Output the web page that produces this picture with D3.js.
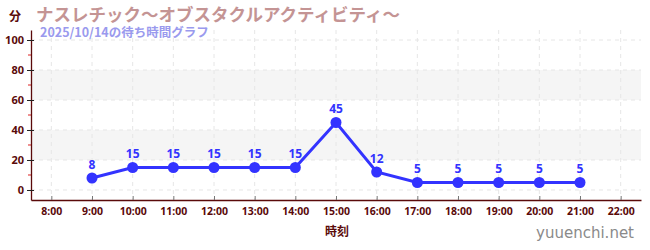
<!DOCTYPE html>
<html>
<head>
<meta charset="utf-8">
<script src="https://cdn.jsdelivr.net/npm/d3@7/dist/d3.min.js"></script>
<style>
  body { margin: 0; background: #fff; }
  svg { display: block; font-family: "Noto Sans CJK JP", "Noto Sans", sans-serif; }
</style>
</head>
<body>
<div id="chart"></div>
<script>
// wait times (minutes) by hour
var hours = [9, 10, 11, 12, 13, 14, 15, 16, 17, 18, 19, 20, 21]
var waits = [8, 15, 15, 15, 15, 15, 45, 12, 5, 5, 5, 5, 5]
var xTicks = [8, 9, 10, 11, 12, 13, 14, 15, 16, 17, 18, 19, 20, 21, 22]
var yTicks = [0, 20, 40, 60, 80, 100]
var bands = [[20, 40], [60, 80]]

var titleText = "ナスレチック～オブスタクルアクティビティ～"
var subText = "2025/10/14の待ち時間グラフ"

var width = 650, height = 250
var m = {top: 30, right: 9, bottom: 50, left: 31}

var svg = d3.select("#chart").append("svg")
  .attr("width", width)
  .attr("height", height)

var x = d3.scaleLinear().domain([7.5, 22.5]).range([m.left, width - m.right])
var y = d3.scaleLinear().domain([-6.67, 106.67]).range([height - m.bottom, m.top])

var axisColour = "#5a0a0a"

// grey bands
svg.append("g").selectAll("rect")
  .data(bands)
  .enter().append("rect")
  .attr("x", m.left)
  .attr("width", width - m.right - m.left)
  .attr("y", d => y(d[1]))
  .attr("height", d => y(d[0]) - y(d[1]))
  .attr("fill", "#f5f5f5")

// dashed grid
var grid = svg.append("g").attr("stroke", "#e6e6e6").attr("stroke-dasharray", "4,4")
grid.selectAll(".gx").data(xTicks).enter().append("line")
  .attr("x1", d => x(d)).attr("x2", d => x(d))
  .attr("y1", m.top).attr("y2", height - m.bottom)
grid.selectAll(".gy").data(yTicks).enter().append("line")
  .attr("x1", m.left).attr("x2", width - m.right)
  .attr("y1", d => y(d)).attr("y2", d => y(d))

// minor y ticks (red)
svg.append("g").selectAll("line")
  .data([10, 30, 50, 70, 90])
  .enter().append("line")
  .attr("x1", m.left - 3).attr("x2", m.left)
  .attr("y1", d => y(d)).attr("y2", d => y(d))
  .attr("stroke", "#d22")

// y axis
var yAxis = svg.append("g")
  .attr("transform", "translate(" + m.left + ",0)")
  .call(d3.axisLeft(y).tickValues(yTicks).tickSize(4).tickPadding(3).tickSizeOuter(0))
yAxis.select(".domain").attr("stroke", axisColour).attr("stroke-width", 1.3)
yAxis.selectAll(".tick line").attr("stroke", "#222").attr("x2", 3).attr("x1", -4)
yAxis.selectAll(".tick text")
  .attr("fill", axisColour).attr("font-size", 11).attr("font-weight", "bold")
  .attr("font-family", "Noto Sans, sans-serif")

// x axis
var xAxis = svg.append("g")
  .attr("transform", "translate(0," + (height - m.bottom) + ")")
  .call(d3.axisBottom(x).tickValues(xTicks).tickFormat(d => d + ":00").tickSize(4).tickPadding(4).tickSizeOuter(0))
xAxis.select(".domain").attr("stroke", axisColour).attr("stroke-width", 1.3)
xAxis.selectAll(".tick line").attr("stroke", "#777").attr("y1", -4).attr("y2", 0)
xAxis.selectAll(".tick text")
  .attr("fill", axisColour).attr("font-size", 10.5).attr("font-weight", "bold")
  .attr("font-family", "Noto Sans, sans-serif")

// line + points
var pts = hours.map((h, i) => ({h: h, v: waits[i]}))
var blue = "#3333ff"

svg.append("path")
  .datum(pts)
  .attr("fill", "none")
  .attr("stroke", blue)
  .attr("stroke-width", 3)
  .attr("d", d3.line().x(d => x(d.h)).y(d => y(d.v)))

svg.append("g").selectAll("circle")
  .data(pts)
  .enter().append("circle")
  .attr("cx", d => x(d.h))
  .attr("cy", d => y(d.v))
  .attr("r", 5.5)
  .attr("fill", blue)

svg.append("g").selectAll("text")
  .data(pts)
  .enter().append("text")
  .attr("x", d => x(d.h))
  .attr("y", d => y(d.v) - 9)
  .attr("text-anchor", "middle")
  .attr("fill", blue)
  .attr("font-size", 12)
  .attr("font-weight", "bold")
  .attr("font-family", "Noto Sans, sans-serif")
  .text(d => d.v)

// titles
svg.append("text")
  .attr("x", 9).attr("y", 21)
  .attr("fill", axisColour).attr("font-size", 12).attr("font-weight", "bold")
  .text("分")

svg.append("text")
  .attr("x", 36).attr("y", 20.5)
  .attr("fill", "#c49494").attr("font-size", 17.5).attr("font-weight", "bold")
  .text(titleText)

svg.append("text")
  .attr("x", 40).attr("y", 37)
  .attr("fill", "#9a9aee").attr("font-size", 12.5).attr("font-weight", "bold")
  .text(subText)

svg.append("text")
  .attr("x", 337).attr("y", 236)
  .attr("text-anchor", "middle")
  .attr("fill", axisColour).attr("font-size", 12).attr("font-weight", "bold")
  .text("時刻")

svg.append("text")
  .attr("x", 634).attr("y", 238)
  .attr("text-anchor", "end")
  .attr("fill", "#8a8a8a").attr("font-size", 15)
  .attr("font-family", "DejaVu Sans, sans-serif")
  .text("yuuenchi.net")
</script>
</body>
</html>
